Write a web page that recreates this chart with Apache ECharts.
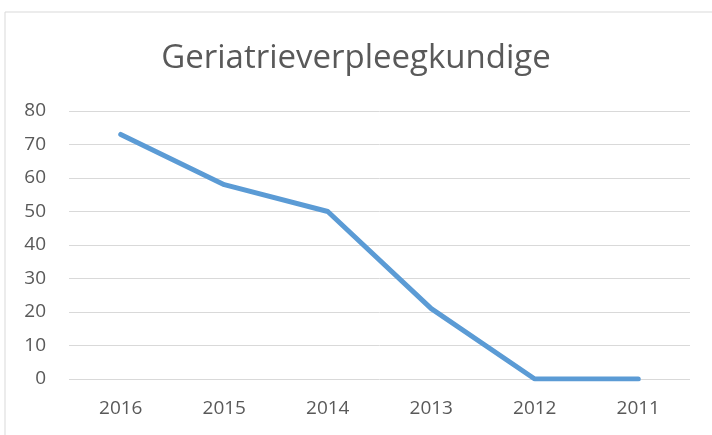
<!DOCTYPE html>
<html lang="nl">
<head>
    <meta charset="UTF-8">
    <title>Geriatrieverpleegkundige</title>
    <style>
        html, body { margin: 0; padding: 0; background: #fff; }
        #main { width: 712px; height: 435px; }
    </style>
</head>
<body>
    <div id="main"></div>
</body>
<script src="https://cdn.jsdelivr.net/npm/echarts@6/dist/echarts.min.js"></script>
<script>
    var years = ['2016', '2015', '2014', '2013', '2012', '2011']
    var counts = [73, 58, 50, 21, 0, 0]
    var yMin = 0, yMax = 80, yStep = 10

    var textColor = '#595959'
    var fontFam = '"Open Sans", sans-serif'

    var main = echarts.init(document.getElementById('main'))
    var option = {
        animation: false,
        title: {
            text: 'Geriatrieverpleegkundige',
            left: 'center',
            top: 37,
            textStyle: {
                color: textColor,
                fontFamily: fontFam,
                fontWeight: 'normal',
                fontSize: 33
            }
        },
        graphic: [{
            type: 'rect',
            shape: { x: 5, y: 12, width: 730, height: 450 },
            style: { fill: 'none', stroke: '#d9d9d9', lineWidth: 1 },
            silent: true
        }],
        grid: { left: 69, right: 22, top: 111, bottom: 56 },
        xAxis: {
            type: 'category',
            data: years,
            boundaryGap: true,
            axisLine: { show: false },
            axisTick: { show: false },
            axisLabel: { color: textColor, fontFamily: fontFam, fontSize: 19, margin: 20 }
        },
        yAxis: {
            type: 'value',
            min: yMin,
            max: yMax,
            interval: yStep,
            axisLine: { show: false },
            axisTick: { show: false },
            axisLabel: { color: textColor, fontFamily: fontFam, fontSize: 19, margin: 23 },
            splitLine: { lineStyle: { color: '#d9d9d9', width: 1 } }
        },
        series: [{
            type: 'line',
            data: counts,
            symbol: 'none',
            lineStyle: { color: '#5b9bd5', width: 5, cap: 'round', join: 'round' }
        }]
    }
    main.setOption(option)
</script>
</html>
